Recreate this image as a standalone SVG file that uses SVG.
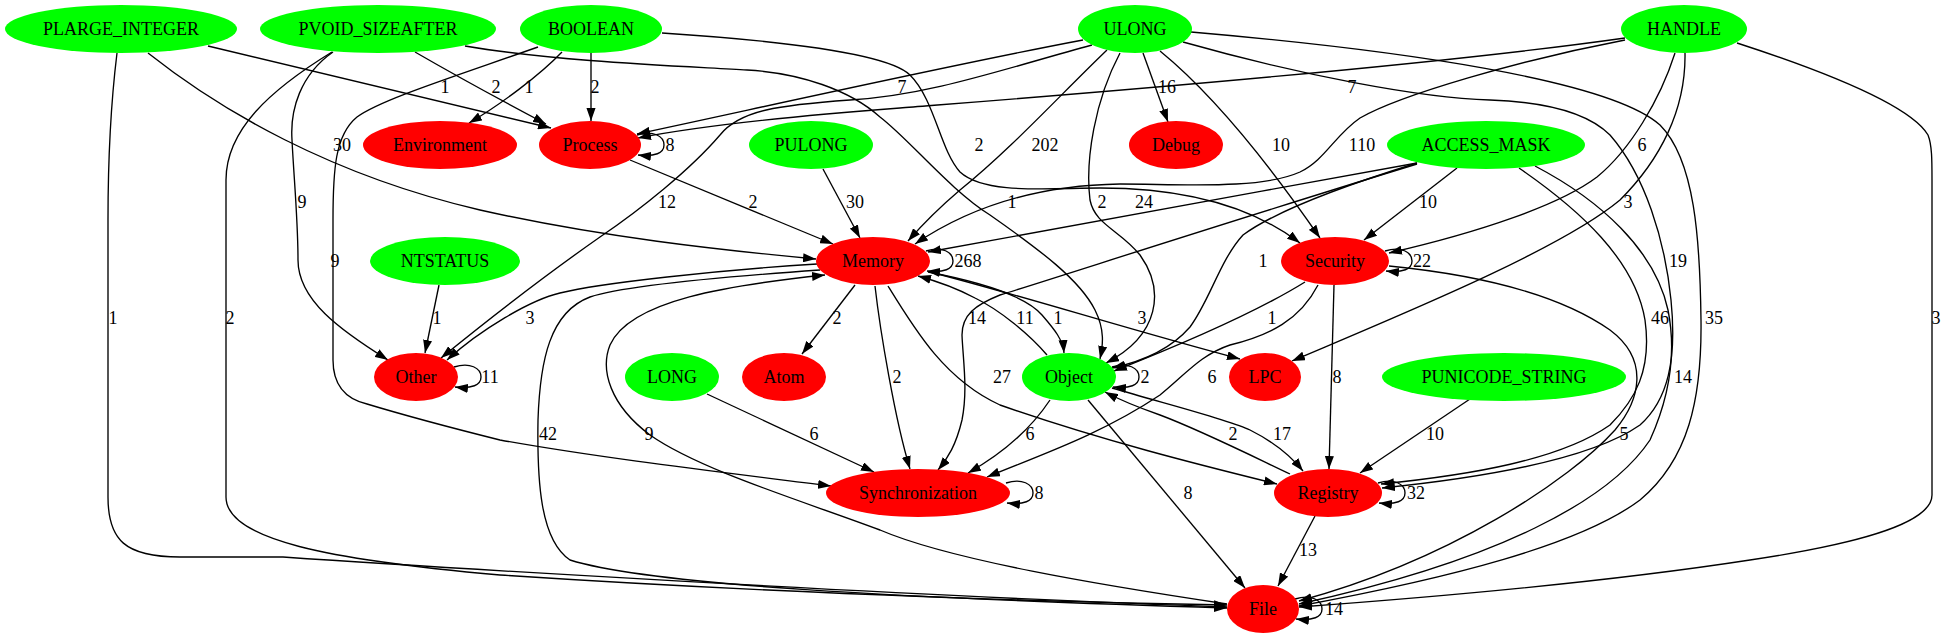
<svg xmlns="http://www.w3.org/2000/svg" width="1947" height="639" viewBox="0 0 1947 639">
<defs>
<marker id="ah" viewBox="0 0 10 7" refX="10" refY="3.5" markerWidth="13" markerHeight="9.1" markerUnits="userSpaceOnUse" orient="auto"><path d="M0,0 L10,3.5 L0,7 z" fill="#000"/></marker>
</defs>
<style>
.g{fill:#00ff00}
.r{fill:#ff0000}
text{font-family:"Liberation Serif","Times New Roman",serif;font-size:18px;text-anchor:middle;fill:#000}
#edges path{fill:none;stroke:#000;stroke-width:1.35;marker-end:url(#ah)}
</style>
<rect width="1947" height="639" fill="#fff"/>
<g id="edges">
<g id="e1"><path d="M208,46 C330,75 450,103 551,128"/><text x="445" y="93">1</text></g>
<g id="e2"><path d="M148,53 C220,110 330,175 480,210 C600,237 720,250 816,259"/><text x="342" y="151">30</text></g>
<g id="e3"><path d="M117,53 C110,110 108,160 108,220 L108,497 C108,540 125,557 180,557 L283,557 C400,565 900,596 1227,607"/><text x="113" y="324">1</text></g>
<g id="e4"><path d="M415,52 C460,78 510,105 546,124"/><text x="496" y="93">2</text></g>
<g id="e5"><path d="M333,52 C300,75 290,110 292,140 C294,180 298,220 298,260 C298,300 340,330 388,360"/><text x="302" y="208">9</text></g>
<g id="e6"><path d="M332,52 C270,90 226,130 226,180 L226,497 C226,540 330,560 500,575 C800,595 1100,603 1227,605"/><text x="230" y="324">2</text></g>
<g id="e7"><path d="M465,46 C560,62 680,66 747,70 C800,73 850,90 880,117 C910,140 950,190 990,215 C1040,250 1080,280 1095,310 C1105,330 1103,345 1100,359"/><text x="1012" y="208">1</text></g>
<g id="e8"><path d="M562,52 C540,75 500,105 469,123"/><text x="529" y="93">1</text></g>
<g id="e9"><path d="M591,53 L591,121"/><text x="595" y="93">2</text></g>
<g id="e10"><path d="M662,33 C800,42 890,55 910,75 C935,100 940,150 960,172 C985,195 1050,188 1100,188 C1180,188 1250,205 1300,243"/><text x="979" y="151">2</text></g>
<g id="e11"><path d="M538,47 C450,78 380,100 357,117 C335,135 333,170 333,220 L333,360 C333,390 350,400 367,404 C420,420 460,430 500,440 C600,458 720,472 831,486"/><text x="335" y="267">9</text></g>
<g id="e12"><path d="M1083,40 C950,65 750,110 637,134"/><text x="902" y="93">7</text></g>
<g id="e13"><path d="M1092,45 C1000,70 930,95 850,100 C780,105 740,110 720,135 C690,170 640,210 600,237 C560,265 500,310 441,358"/><text x="667" y="208">12</text></g>
<g id="e14"><path d="M1107,50 C1060,95 1010,150 960,190 C940,207 922,225 908,241"/><text x="1045" y="151">202</text></g>
<g id="e15"><path d="M1120,53 C1095,100 1085,160 1090,200 C1095,225 1120,230 1140,255 C1165,290 1160,335 1106,363"/><text x="1102" y="208">2</text></g>
<g id="e16"><path d="M1143,53 L1168,122"/><text x="1167" y="93">16</text></g>
<g id="e17"><path d="M1160,51 C1220,100 1280,180 1320,238"/><text x="1281" y="151">10</text></g>
<g id="e18"><path d="M1183,42 C1300,75 1420,98 1490,100 C1550,102 1590,115 1610,135 C1645,175 1665,240 1671,300 C1677,360 1668,400 1640,425 C1590,460 1480,478 1382,488"/><text x="1678" y="267">19</text></g>
<g id="e19"><path d="M1191,32 C1400,50 1610,80 1660,125 C1695,160 1700,240 1701,320 C1702,400 1688,460 1640,500 C1580,545 1450,578 1299,606"/><text x="1714" y="324">35</text></g>
<g id="e20"><path d="M1625,38 C1400,70 1000,100 900,108 C780,117 700,126 638,138"/><text x="1352" y="93">7</text></g>
<g id="e21"><path d="M1625,40 C1520,60 1400,95 1360,118 C1335,135 1325,160 1300,172 C1260,190 1180,184 1120,184 C1050,185 980,200 915,244"/><text x="1362" y="151">110</text></g>
<g id="e22"><path d="M1675,53 C1660,100 1630,150 1597,177 C1560,205 1480,232 1389,253"/><text x="1642" y="151">6</text></g>
<g id="e23"><path d="M1685,53 C1686,110 1660,160 1620,200 C1560,250 1400,315 1292,361"/><text x="1628" y="208">3</text></g>
<g id="e24"><path d="M1737,43 C1820,70 1910,105 1928,135 C1932,145 1932,160 1932,180 L1932,495 C1932,525 1850,545 1750,560 C1620,580 1450,596 1299,607"/><text x="1936" y="324">3</text></g>
<g id="e25"><path d="M823,169 L860,238"/><text x="855" y="208">30</text></g>
<g id="e26"><path d="M1417,163 C1250,193 1050,230 928,252"/><text x="1144" y="208">24</text></g>
<g id="e27"><path d="M1457,168 L1364,240"/><text x="1428" y="208">10</text></g>
<g id="e28"><path d="M1417,163 C1330,190 1270,215 1243,235 C1220,260 1210,300 1190,327 C1170,350 1140,362 1112,368"/><text x="1263" y="267">1</text></g>
<g id="e29"><path d="M1417,164 C1250,215 1080,270 1000,295 C975,305 962,315 962,335 C963,360 968,390 962,420 C956,445 948,458 938,470"/><text x="977" y="324">14</text></g>
<g id="e30"><path d="M1519,168 C1580,210 1635,260 1645,320 C1652,370 1635,400 1610,425 C1560,460 1470,475 1381,484"/><text x="1660" y="324">46</text></g>
<g id="e31"><path d="M1535,166 C1600,200 1655,250 1668,310 C1677,355 1668,400 1650,440 C1610,500 1500,560 1299,604"/><text x="1683" y="383">14</text></g>
<g id="e32"><path d="M439,285 L425,353"/><text x="437" y="324">1</text></g>
<g id="e33"><path d="M707,394 L874,472"/><text x="814" y="440">6</text></g>
<g id="e34"><path d="M1470,399 L1360,473"/><text x="1435" y="440">10</text></g>
<g id="e35"><path d="M637,135 C653,130 664,136 664,145 C664,153 655,157 638,155"/><text x="670" y="151">8</text></g>
<g id="e36"><path d="M630,160 L833,244"/><text x="753" y="208">2</text></g>
<g id="e37"><path d="M926,251 C942,246 953,252 953,261 C953,269 944,273 927,271"/><text x="968" y="267">268</text></g>
<g id="e38"><path d="M817,264 C720,270 600,283 560,293 C530,300 480,330 447,360"/><text x="530" y="324">3</text></g>
<g id="e39"><path d="M855,285 L802,354"/><text x="837" y="324">2</text></g>
<g id="e40"><path d="M875,286 C880,330 895,420 910,469"/><text x="897" y="383">2</text></g>
<g id="e41"><path d="M928,272 C980,282 1025,295 1042,315 C1055,330 1063,340 1064,353"/><text x="1058" y="324">1</text></g>
<g id="e42"><path d="M930,272 C1020,295 1130,330 1240,359"/><text x="1142" y="324">3</text></g>
<g id="e43"><path d="M888,286 C915,330 945,380 1000,405 C1100,440 1200,465 1277,484"/><text x="1002" y="383">27</text></g>
<g id="e44"><path d="M820,270 C720,277 620,287 590,297 C550,312 540,360 538,420 C537,480 540,540 570,560 C650,585 900,598 1227,608"/><text x="548" y="440">42</text></g>
<g id="e45"><path d="M1227,604 C1100,585 950,560 880,530 C800,500 700,470 650,435 C610,405 600,370 610,345 C630,300 730,285 825,275"/><text x="649" y="440">9</text></g>
<g id="e46"><path d="M1047,355 C1030,335 1000,310 975,298 C960,290 940,282 918,276"/><text x="1025" y="324">11</text></g>
<g id="e47"><path d="M1112,367 C1128,362 1139,368 1139,377 C1139,385 1130,389 1113,387"/><text x="1145" y="383">2</text></g>
<g id="e48"><path d="M1050,400 C1030,430 1000,455 968,473"/><text x="1030" y="440">6</text></g>
<g id="e49"><path d="M1112,388 C1170,405 1230,420 1250,430 C1270,440 1290,455 1303,471"/><text x="1282" y="440">17</text></g>
<g id="e50"><path d="M1088,400 L1245,588"/><text x="1188" y="499">8</text></g>
<g id="e51"><path d="M1385,251 C1401,246 1412,252 1412,261 C1412,269 1403,273 1386,271"/><text x="1422" y="267">22</text></g>
<g id="e52"><path d="M1305,282 C1260,310 1180,345 1114,371"/><text x="1272" y="324">1</text></g>
<g id="e53"><path d="M1318,285 C1300,320 1270,335 1230,345 C1200,355 1185,375 1160,395 C1100,435 1040,455 987,477"/><text x="1212" y="383">6</text></g>
<g id="e54"><path d="M1334,285 L1329,469"/><text x="1337" y="383">8</text></g>
<g id="e55"><path d="M1389,266 C1480,275 1560,295 1610,330 C1650,360 1640,400 1615,430 C1570,480 1450,560 1299,601"/><text x="1624" y="440">5</text></g>
<g id="e56"><path d="M454,367 C470,362 481,368 481,377 C481,385 472,389 455,387"/><text x="490" y="383">11</text></g>
<g id="e57"><path d="M1006,483 C1022,478 1033,484 1033,493 C1033,501 1024,505 1007,503"/><text x="1039" y="499">8</text></g>
<g id="e58"><path d="M1290,474 C1250,455 1200,430 1160,415 C1140,408 1120,400 1105,392"/><text x="1233" y="440">2</text></g>
<g id="e59"><path d="M1378,483 C1394,478 1405,484 1405,493 C1405,501 1396,505 1379,503"/><text x="1416" y="499">32</text></g>
<g id="e60"><path d="M1315,516 L1278,586"/><text x="1308" y="556">13</text></g>
<g id="e61"><path d="M1295,599 C1311,594 1322,600 1322,609 C1322,617 1313,621 1296,619"/><text x="1334" y="615">14</text></g>
</g>
<g id="PLARGE_INTEGER"><ellipse class="g" cx="121" cy="29" rx="116" ry="24"/><text x="121" y="35">PLARGE_INTEGER</text></g>
<g id="PVOID_SIZEAFTER"><ellipse class="g" cx="378" cy="29" rx="118" ry="24"/><text x="378" y="35">PVOID_SIZEAFTER</text></g>
<g id="BOOLEAN"><ellipse class="g" cx="591" cy="29" rx="71" ry="24"/><text x="591" y="35">BOOLEAN</text></g>
<g id="ULONG"><ellipse class="g" cx="1135" cy="29" rx="57" ry="24"/><text x="1135" y="35">ULONG</text></g>
<g id="HANDLE"><ellipse class="g" cx="1684" cy="29" rx="63" ry="24"/><text x="1684" y="35">HANDLE</text></g>
<g id="Environment"><ellipse class="r" cx="440" cy="145" rx="77" ry="24"/><text x="440" y="151">Environment</text></g>
<g id="Process"><ellipse class="r" cx="590" cy="145" rx="51" ry="24"/><text x="590" y="151">Process</text></g>
<g id="PULONG"><ellipse class="g" cx="811" cy="145" rx="62" ry="24"/><text x="811" y="151">PULONG</text></g>
<g id="Debug"><ellipse class="r" cx="1176" cy="145" rx="47" ry="24"/><text x="1176" y="151">Debug</text></g>
<g id="ACCESS_MASK"><ellipse class="g" cx="1486" cy="145" rx="99" ry="24"/><text x="1486" y="151">ACCESS_MASK</text></g>
<g id="NTSTATUS"><ellipse class="g" cx="445" cy="261" rx="75" ry="24"/><text x="445" y="267">NTSTATUS</text></g>
<g id="Memory"><ellipse class="r" cx="873" cy="261" rx="57" ry="24"/><text x="873" y="267">Memory</text></g>
<g id="Security"><ellipse class="r" cx="1335" cy="261" rx="54" ry="24"/><text x="1335" y="267">Security</text></g>
<g id="Other"><ellipse class="r" cx="416" cy="377" rx="42" ry="24"/><text x="416" y="383">Other</text></g>
<g id="LONG"><ellipse class="g" cx="672" cy="377" rx="47" ry="24"/><text x="672" y="383">LONG</text></g>
<g id="Atom"><ellipse class="r" cx="784" cy="377" rx="42" ry="24"/><text x="784" y="383">Atom</text></g>
<g id="Object"><ellipse class="g" cx="1069" cy="377" rx="47" ry="24"/><text x="1069" y="383">Object</text></g>
<g id="LPC"><ellipse class="r" cx="1265" cy="377" rx="36" ry="24"/><text x="1265" y="383">LPC</text></g>
<g id="PUNICODE_STRING"><ellipse class="g" cx="1504" cy="377" rx="122" ry="24"/><text x="1504" y="383">PUNICODE_STRING</text></g>
<g id="Synchronization"><ellipse class="r" cx="918" cy="493" rx="92" ry="24"/><text x="918" y="499">Synchronization</text></g>
<g id="Registry"><ellipse class="r" cx="1328" cy="493" rx="54" ry="24"/><text x="1328" y="499">Registry</text></g>
<g id="File"><ellipse class="r" cx="1263" cy="609" rx="36" ry="24"/><text x="1263" y="615">File</text></g>
</svg>
